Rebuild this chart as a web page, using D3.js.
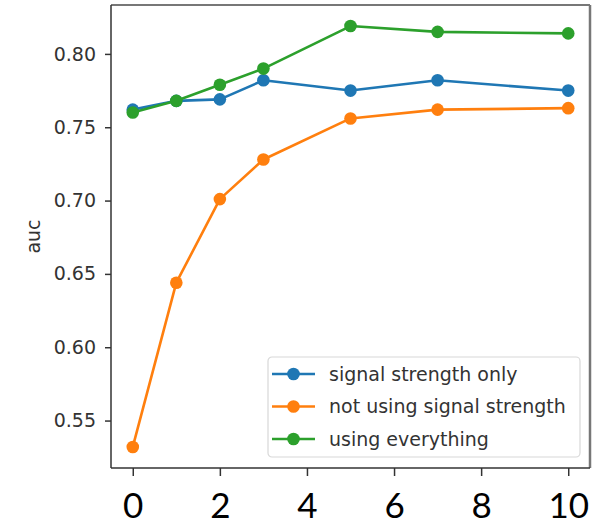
<!DOCTYPE html>
<html>
<head>
<meta charset="utf-8">
<script src="https://cdn.jsdelivr.net/npm/d3@7"></script>
<style>
  html, body { margin: 0; padding: 0; background: #fff; }
  svg { display: block; }
</style>
</head>
<body>
<svg id="chart" width="616" height="524"></svg>
<script>
// Window sizes tried
const windows = [0, 1, 2, 3, 5, 7, 10];

// AUC per feature set
const signalOnly   = [0.762, 0.768, 0.769, 0.782, 0.775, 0.782, 0.775];
const noSignal     = [0.532, 0.644, 0.701, 0.728, 0.756, 0.762, 0.763];
const everything   = [0.760, 0.768, 0.779, 0.790, 0.819, 0.815, 0.814];

const seriesNames  = ["signal strength only", "not using signal strength", "using everything"];
const seriesColors = ["#1f77b4", "#ff7f0e", "#2ca02c"];

const xTicks = [0, 2, 4, 6, 8, 10];
const yTicks = [0.55, 0.60, 0.65, 0.70, 0.75, 0.80];
const yLabel = "auc";

const series = [signalOnly, noSignal, everything].map((vals, i) => ({
  name: seriesNames[i],
  color: seriesColors[i],
  points: vals.map((v, j) => ({ x: windows[j], y: v }))
}));

const svg = d3.select("#chart");
const plot = { left: 111, right: 590, top: 5, bottom: 468 };

// matplotlib-style 5% padding around the data
const allY = series.flatMap(s => s.points.map(p => p.y));
const yMin = d3.min(allY), yMax = d3.max(allY), yPad = (yMax - yMin) * 0.05;
const xMin = d3.min(windows), xMax = d3.max(windows), xPad = (xMax - xMin) * 0.05;

const x = d3.scaleLinear().domain([xMin - xPad, xMax + xPad]).range([plot.left, plot.right]);
const y = d3.scaleLinear().domain([yMin - yPad, yMax + yPad]).range([plot.bottom, plot.top]);

const tickFont = "'DejaVu Sans', sans-serif";

// y axis
const yAxis = svg.append("g")
  .attr("transform", `translate(${plot.left},0)`)
  .call(d3.axisLeft(y).tickValues(yTicks).tickFormat(d3.format(".2f")).tickSize(6).tickPadding(9));
yAxis.select(".domain").remove();
yAxis.selectAll(".tick line").attr("stroke", "#333").attr("stroke-width", 1.5);
yAxis.selectAll(".tick text")
  .attr("font-family", tickFont).attr("font-size", 19).attr("fill", "#333");

// x axis
const xAxis = svg.append("g")
  .attr("transform", `translate(0,${plot.bottom})`)
  .call(d3.axisBottom(x).tickValues(xTicks).tickFormat(d3.format("d")).tickSize(8).tickPadding(17));
xAxis.select(".domain").remove();
xAxis.selectAll(".tick line").attr("stroke", "#333").attr("stroke-width", 1.5);
xAxis.selectAll(".tick text")
  .attr("font-family", "Lato, 'Liberation Sans', sans-serif")
  .attr("font-size", 35).attr("fill", "#000");

// frame
svg.append("line").attr("x1", plot.left).attr("x2", plot.right).attr("y1", plot.top).attr("y2", plot.top)
  .attr("stroke", "#777").attr("stroke-width", 2);
svg.append("line").attr("x1", plot.right).attr("x2", plot.right).attr("y1", plot.top).attr("y2", plot.bottom)
  .attr("stroke", "#777").attr("stroke-width", 2.5);
svg.append("line").attr("x1", plot.left).attr("x2", plot.left).attr("y1", plot.top).attr("y2", plot.bottom)
  .attr("stroke", "#333").attr("stroke-width", 1.5);
svg.append("line").attr("x1", plot.left).attr("x2", plot.right).attr("y1", plot.bottom).attr("y2", plot.bottom)
  .attr("stroke", "#333").attr("stroke-width", 1.5);

// y label
svg.append("text")
  .attr("transform", `translate(40,${(plot.top + plot.bottom) / 2}) rotate(-90)`)
  .attr("text-anchor", "middle")
  .attr("font-family", tickFont).attr("font-size", 19).attr("fill", "#333")
  .text(yLabel);

// lines and markers
const line = d3.line().x(d => x(d.x)).y(d => y(d.y));
const g = svg.append("g");
series.forEach(s => {
  g.append("path").datum(s.points)
    .attr("d", line).attr("fill", "none")
    .attr("stroke", s.color).attr("stroke-width", 2.6).attr("stroke-linejoin", "round");
  g.selectAll(null).data(s.points).enter().append("circle")
    .attr("cx", d => x(d.x)).attr("cy", d => y(d.y)).attr("r", 6.3)
    .attr("fill", s.color);
});

// legend
const lg = svg.append("g").attr("transform", "translate(268,357)");
lg.append("rect").attr("width", 312).attr("height", 100).attr("rx", 4)
  .attr("fill", "#fff").attr("fill-opacity", 0.85)
  .attr("stroke", "#d8d8d8").attr("stroke-width", 1.2);
series.forEach((s, i) => {
  const row = lg.append("g").attr("transform", `translate(0,${17 + i * 32.5})`);
  row.append("line").attr("x1", 4).attr("x2", 47).attr("y1", 0).attr("y2", 0)
    .attr("stroke", s.color).attr("stroke-width", 2.6);
  row.append("circle").attr("cx", 25.5).attr("cy", 0).attr("r", 6.3).attr("fill", s.color);
  row.append("text").attr("x", 61).attr("y", 0).attr("dy", "0.35em")
    .attr("font-family", tickFont).attr("font-size", 19).attr("fill", "#333")
    .text(s.name);
});
</script>
</body>
</html>
